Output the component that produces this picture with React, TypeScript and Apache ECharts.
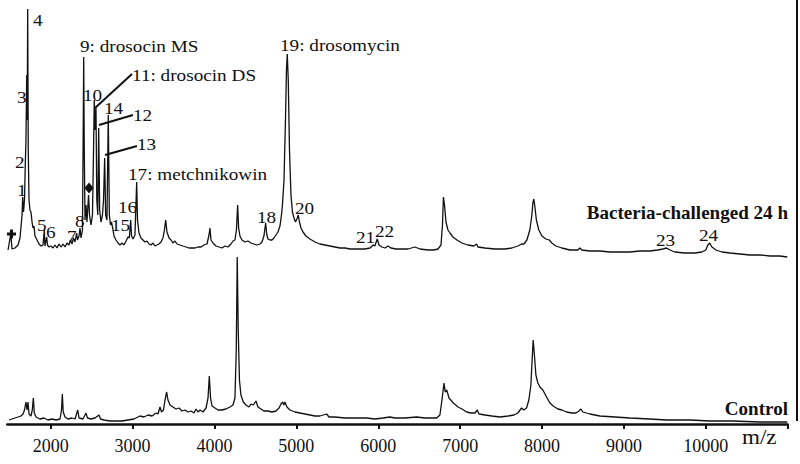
import React, { useEffect, useRef } from "react";
import * as echarts from "echarts";

// ---------- data (m/z, relative intensity) ----------
const topMz = [
  1479, 1512, 1528, 1564, 1601, 1625, 1650, 1658, 1668, 1680, 1690, 1698, 1707, 1713, 1719, 1726, 1735, 1747, 1759, 1772,
  1784, 1796, 1808, 1833, 1857, 1881, 1906, 1922, 1930, 1951, 1961, 1979, 2004, 2028, 2053, 2077, 2101, 2126, 2150, 2175,
  2199, 2223, 2242, 2260, 2278, 2297, 2317, 2327, 2346, 2358, 2370, 2388, 2397, 2403, 2410, 2419, 2431, 2443, 2462, 2474,
  2492, 2510, 2523, 2532, 2541, 2553, 2563, 2575, 2586, 2598, 2614, 2632, 2645, 2659, 2671, 2687, 2703, 2716, 2730, 2742,
  2757, 2773, 2797, 2822, 2846, 2871, 2895, 2920, 2944, 2960, 2977, 2987, 3005, 3029, 3050, 3060, 3078, 3103, 3127, 3151,
  3176, 3200, 3225, 3249, 3273, 3298, 3322, 3347, 3371, 3389, 3404, 3420, 3445, 3469, 3493, 3518, 3542, 3579, 3615, 3652,
  3689, 3725, 3762, 3799, 3835, 3872, 3909, 3933, 3945, 3957, 3982, 4018, 4055, 4091, 4128, 4165, 4201, 4226, 4250, 4268,
  4283, 4295, 4311, 4336, 4372, 4409, 4446, 4482, 4519, 4556, 4580, 4604, 4625, 4638, 4653, 4678, 4702, 4726, 4751, 4775,
  4800, 4818, 4830, 4849, 4867, 4879, 4889, 4901, 4916, 4934, 4952, 4971, 4989, 5007, 5023, 5038, 5056, 5081, 5117, 5166,
  5227, 5288, 5349, 5410, 5472, 5533, 5594, 5655, 5716, 5777, 5838, 5899, 5939, 5958, 5988, 6009, 6045, 6082, 6119, 6155,
  6216, 6289, 6363, 6448, 6509, 6607, 6680, 6729, 6766, 6784, 6796, 6809, 6827, 6851, 6876, 6912, 6961, 7022, 7095, 7168,
  7201, 7217, 7302, 7424, 7546, 7632, 7705, 7750, 7778, 7815, 7851, 7876, 7888, 7900, 7913, 7931, 7961, 7998, 8047, 8087,
  8120, 8169, 8242, 8340, 8437, 8461, 8486, 8584, 8706, 8828, 8950, 9072, 9194, 9316, 9414, 9475, 9521, 9561, 9622, 9744,
  9866, 9951, 10000, 10025, 10047, 10075, 10124, 10197, 10295, 10417, 10539, 10661, 10783, 10905, 10995,
];
const topIntensity = [
  5, 21, 6, 7, 10, 17, 40, 58, 43, 55, 92, 115, 180, 135, 246, 105, 55, 45, 43, 33,
  27, 29, 19, 15, 11, 9, 10, 25, 9, 18, 10, 8, 9, 7, 10, 7, 11, 8, 11, 8,
  12, 10, 15, 11, 17, 13, 22, 15, 19, 27, 17, 25, 125, 198, 105, 35, 50, 33, 60, 40,
  30, 40, 105, 155, 125, 147, 55, 40, 127, 45, 33, 40, 55, 97, 40, 35, 140, 40, 30, 33,
  27, 19, 15, 12, 10, 12, 10, 14, 18, 17, 35, 19, 16, 20, 73, 35, 22, 17, 15, 13,
  14, 11, 10, 12, 9, 10, 11, 13, 17, 25, 35, 23, 17, 15, 12, 14, 11, 10, 9, 8,
  7, 7, 7, 8, 8, 10, 11, 20, 27, 15, 12, 9, 8, 7, 9, 8, 11, 14, 15, 25,
  50, 27, 19, 15, 13, 14, 12, 11, 10, 11, 13, 19, 32, 21, 16, 15, 15, 17, 20, 23,
  29, 40, 50, 75, 135, 185, 201, 175, 105, 60, 43, 37, 33, 36, 40, 33, 27, 23, 19, 16,
  13, 11, 10, 9, 8, 7, 7, 6, 6, 6, 6, 7, 10, 9, 16, 10, 8, 7, 9, 7,
  6, 6, 6, 8, 6, 5, 5, 6, 10, 30, 58, 50, 33, 25, 22, 18, 15, 12, 10, 9,
  11, 8, 7, 6, 6, 7, 9, 11, 11, 15, 25, 40, 52, 56, 48, 35, 25, 19, 16, 15,
  12, 9, 7, 5, 5, 7, 5, 4, 4, 3, 3, 3, 4, 4, 5, 6, 7, 5, 3, 2,
  2, 3, 5, 10, 12, 8, 5, 3, 2, 1, 0, 0, -1, -1, -2,
];

const controlMz = [
  1491, 1527, 1564, 1601, 1637, 1662, 1680, 1698, 1711, 1723, 1735, 1759, 1775, 1788, 1800, 1821, 1869, 1918, 1967, 2016,
  2065, 2114, 2132, 2142, 2153, 2175, 2211, 2260, 2297, 2330, 2346, 2394, 2431, 2449, 2492, 2541, 2590, 2608, 2651, 2724,
  2797, 2871, 2944, 3017, 3090, 3139, 3188, 3237, 3286, 3310, 3335, 3353, 3377, 3396, 3416, 3432, 3457, 3493, 3530, 3567,
  3603, 3640, 3677, 3713, 3750, 3774, 3799, 3823, 3860, 3897, 3921, 3937, 3952, 3970, 4006, 4043, 4091, 4140, 4189, 4226,
  4250, 4266, 4278, 4290, 4305, 4323, 4352, 4384, 4421, 4446, 4474, 4507, 4531, 4568, 4604, 4653, 4702, 4751, 4788, 4812,
  4832, 4848, 4860, 4885, 4922, 4983, 5044, 5105, 5166, 5227, 5288, 5370, 5398, 5472, 5594, 5716, 5858, 5960, 6057, 6143,
  6204, 6326, 6469, 6570, 6713, 6753, 6778, 6803, 6818, 6836, 6864, 6917, 6974, 7022, 7080, 7132, 7181, 7209, 7230, 7303,
  7388, 7486, 7584, 7657, 7705, 7750, 7778, 7811, 7839, 7864, 7882, 7892, 7904, 7925, 7949, 7974, 8010, 8055, 8096, 8136,
  8194, 8243, 8300, 8365, 8414, 8450, 8475, 8499, 8584, 8706, 8890, 9072, 9316, 9520, 9805, 10049, 10330, 10661, 10995,
];
const controlIntensity = [
  4, 5, 6, 7, 8, 10, 14, 22, 14, 22, 10, 8, 14, 26, 11, 7, 5, 6, 4, 5,
  4, 5, 14, 30, 12, 7, 5, 6, 5, 14, 6, 5, 11, 6, 5, 6, 9, 5, 4, 3,
  3, 3, 4, 5, 8, 7, 9, 8, 11, 10, 17, 12, 14, 24, 32, 24, 19, 17, 15, 16,
  13, 14, 12, 13, 11, 15, 12, 14, 12, 16, 26, 48, 26, 18, 16, 14, 14, 15, 17, 19,
  26, 74, 167, 94, 44, 29, 22, 19, 17, 20, 19, 23, 17, 15, 13, 13, 12, 13, 16, 20,
  22, 19, 22, 17, 14, 12, 11, 10, 9, 8, 8, 10, 7, 7, 6, 6, 6, 5, 6, 7,
  6, 6, 7, 6, 6, 9, 24, 41, 32, 34, 26, 21, 17, 15, 12, 11, 11, 14, 10, 9,
  8, 7, 8, 9, 11, 16, 14, 16, 24, 39, 69, 84, 72, 49, 41, 37, 34, 27, 21, 18,
  15, 14, 12, 11, 11, 13, 15, 12, 10, 8, 7, 6, 5, 4, 4, 3, 3, 2, 2,
];

const tickLabels = [2000, 3000, 4000, 5000, 6000, 7000, 8000, 9000, 10000];
const tickMarks = [2000, 3000, 4000, 5000, 6000, 7000, 8000, 9000, 10000, 11000];

// annotation markers [m/z, intensity] on the challenged trace
const plusMarker = [[1521, 21]];
const diamondMarker = [[2468, 67]];

// peak labels (layout annotations)
const peakLabels = [
  { text: "1", x: 17, y: 190 },
  { text: "2", x: 15, y: 162 },
  { text: "3", x: 17, y: 97 },
  { text: "4", x: 33, y: 20 },
  { text: "5", x: 37, y: 225 },
  { text: "6", x: 46, y: 232 },
  { text: "7", x: 67, y: 236 },
  { text: "8", x: 75, y: 221 },
  { text: "9: drosocin MS", x: 80, y: 46 },
  { text: "10", x: 83, y: 95 },
  { text: "11: drosocin DS", x: 132, y: 75 },
  { text: "12", x: 133, y: 115 },
  { text: "13", x: 137, y: 144 },
  { text: "14", x: 104, y: 108 },
  { text: "15", x: 111, y: 225 },
  { text: "16", x: 118, y: 207 },
  { text: "17: metchnikowin", x: 128, y: 174 },
  { text: "18", x: 257, y: 217 },
  { text: "19: drosomycin", x: 280, y: 45 },
  { text: "20", x: 295, y: 208 },
  { text: "21", x: 356, y: 237 },
  { text: "22", x: 375, y: 231 },
  { text: "23", x: 656, y: 240 },
  { text: "24", x: 699, y: 235 },
];
const leaderLines = [
  [95, 108, 132, 74],
  [99, 125, 133, 115],
  [105, 155, 137, 146],
];

const SERIF = "Liberation Serif";

function txt(text: string, x: number, y: number, size: number, weight: string, align: string, sx = 1) {
  return {
    type: "text",
    x,
    y,
    scaleX: sx,
    style: {
      text,
      fontFamily: SERIF,
      fontSize: size,
      fontWeight: weight,
      fill: "#111",
      textAlign: align,
      textVerticalAlign: "middle",
      align,
      verticalAlign: "middle",
    },
  };
}

export default function App() {
  const ref = useRef<HTMLDivElement>(null);

  useEffect(() => {
    if (!ref.current) return;
    const chart = echarts.init(ref.current, undefined, { renderer: "svg" });

    const topData = topMz.map((m, i) => [m, topIntensity[i]]);
    const ctrlData = controlMz.map((m, i) => [m, controlIntensity[i]]);

    const graphics: any[] = [];
    peakLabels.forEach((l) => graphics.push(txt(l.text, l.x, l.y, 17, "normal", "left", 1.13)));
    leaderLines.forEach((ln) => {
      graphics.push({
        type: "line",
        shape: { x1: ln[0], y1: ln[1], x2: ln[2], y2: ln[3] },
        style: { stroke: "#111", lineWidth: 2 },
      });
    });
    graphics.push(
      txt("Bacteria-challenged 24 h", 788, 213, 18, "bold", "right", 1.06),
      txt("Control", 788, 409, 18, "bold", "right", 1.06),
      txt("m/z", 742, 437, 21, "normal", "left", 1.1),
      {
        type: "line",
        shape: { x1: 797, y1: 0, x2: 797, y2: 421 },
        style: { stroke: "#111", lineWidth: 2 },
      }
    );

    chart.setOption({
      animation: false,
      backgroundColor: "#fff",
      textStyle: { fontFamily: SERIF },
      grid: [
        { left: 7.3, top: 0, width: 780.4, height: 260 },
        { left: 7.3, top: 254, width: 780.4, height: 174 },
      ],
      xAxis: [
        { gridIndex: 0, type: "value", min: 1470, max: 11000, show: false },
        {
          gridIndex: 1,
          type: "value",
          min: 1470,
          max: 11000,
          axisLine: { show: true, lineStyle: { color: "#111", width: 2.5 } },
          axisTick: {
            show: true,
            customValues: tickMarks,
            length: 5,
            inside: false,
            lineStyle: { color: "#111", width: 2 },
          },
          axisLabel: {
            show: true,
            customValues: tickLabels,
            formatter: (v: number) => String(v),
            margin: 9,
            color: "#111",
            fontFamily: SERIF,
            fontSize: 18,
          },
          splitLine: { show: false },
        },
      ],
      yAxis: [
        { gridIndex: 0, type: "value", min: -5, max: 255, show: false },
        { gridIndex: 1, type: "value", min: -4, max: 170, show: false },
      ],
      series: [
        {
          name: "Bacteria-challenged 24 h",
          type: "line",
          xAxisIndex: 0,
          yAxisIndex: 0,
          data: topData,
          showSymbol: false,
          lineStyle: { color: "#111", width: 1.3 },
          silent: true,
        },
        {
          name: "Control",
          type: "line",
          xAxisIndex: 1,
          yAxisIndex: 1,
          data: ctrlData,
          showSymbol: false,
          lineStyle: { color: "#111", width: 1.3 },
          silent: true,
        },
        {
          type: "scatter",
          xAxisIndex: 0,
          yAxisIndex: 0,
          data: plusMarker,
          symbol: "path://M3,0H6V3H9V6H6V9H3V6H0V3H3Z",
          symbolSize: 9,
          itemStyle: { color: "#111", opacity: 1 },
          silent: true,
        },
        {
          type: "scatter",
          xAxisIndex: 0,
          yAxisIndex: 0,
          data: diamondMarker,
          symbol: "diamond",
          symbolSize: [9, 11],
          itemStyle: { color: "#111", opacity: 1 },
          silent: true,
        },
      ],
      graphic: graphics,
    });

    return () => chart.dispose();
  }, []);

  return (
    <div
      ref={ref}
      style={{ position: "fixed", left: 0, top: 0, width: 800, height: 464, background: "#fff" }}
    />
  );
}
